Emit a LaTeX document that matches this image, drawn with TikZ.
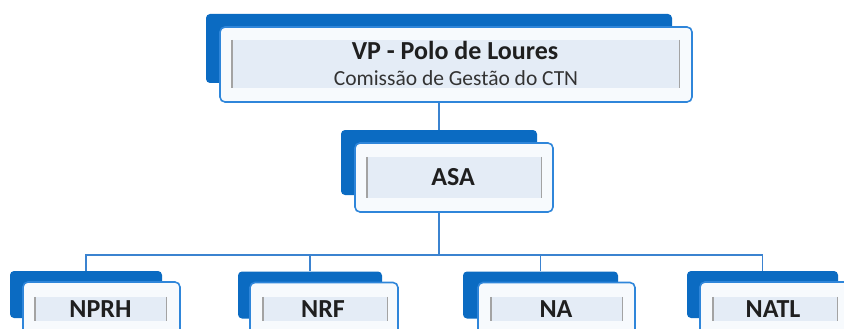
\documentclass[tikz,border=0pt]{standalone}
\usepackage{fontspec}
\setmainfont{Carlito}
\usetikzlibrary{backgrounds}

\definecolor{cardblue}{HTML}{0B6BC2}
\definecolor{edgeblue}{HTML}{2F86DA}
\definecolor{frontfill}{HTML}{F7FAFD}
\definecolor{bandfill}{HTML}{E4ECF6}
\definecolor{bargray}{HTML}{A3A3A3}
\definecolor{linkblue}{HTML}{3B83D0}

\tikzset{
  backbox/.style={fill=cardblue, rounded corners=4pt, inner sep=0pt},
  frontbox/.style={draw=edgeblue, line width=1.6pt, fill=frontfill, rounded corners=5pt, inner sep=0pt},
  band/.style={fill=bandfill, inner sep=0pt},
  bar/.style={draw=bargray, line width=1.4pt},
  link/.style={draw=linkblue, line width=1.8pt},
  head/.style={font=\bfseries\fontsize{26}{28}\selectfont, text=black!88, anchor=base, inner sep=0pt},
  sub/.style={font=\fontsize{21.5}{23}\selectfont, text=black!80, anchor=base, inner sep=0pt}
}

\begin{document}
\begin{tikzpicture}[x=1pt, y=-1pt]
    % Sinirlar
    \useasboundingbox (0,0) rectangle (844,329);
    \clip (0,0) rectangle (844,329);

    % VP kutusu
    \node[backbox, minimum width=466pt, minimum height=69pt] (vpb) at (439,48.5) {};
    \node[frontbox, minimum width=472pt, minimum height=75pt] (vp) at (456,64.5) {};
    \node[band, minimum width=447pt, minimum height=48pt] (vpin) at (455.5,64) {};
    \draw[bar] (vpin.north west) -- (vpin.south west);
    \draw[bar] (vpin.north east) -- (vpin.south east);
    \node[head] (vpt) at (455,60) {VP - Polo de Loures};
    \node[sub] (vps) at (456,85) {Comissão de Gestão do CTN};

    % ASA kutusu
    \node[backbox, minimum width=196pt, minimum height=65pt] (asab) at (439,162.5) {};
    \node[frontbox, minimum width=198pt, minimum height=69pt] (asa) at (454,177.5) {};
    \node[band, minimum width=174pt, minimum height=41pt] (asain) at (454,177.5) {};
    \draw[bar] (asain.north west) -- (asain.south west);
    \draw[bar] (asain.north east) -- (asain.south east);
    \node[head] (asat) at (453,185) {ASA};

    % Alt kutular
    \node[backbox, minimum width=152pt, minimum height=47pt] (nprhb) at (86,294.5) {};
    \node[frontbox, minimum width=157pt, minimum height=69pt] (nprh) at (101.5,316.5) {};
    \node[band, minimum width=131pt, minimum height=24pt] (nprhin) at (100.5,309) {};
    \draw[bar] (nprhin.north west) -- (nprhin.south west);
    \draw[bar] (nprhin.north east) -- (nprhin.south east);
    \node[head] (nprht) at (100.5,317) {NPRH};

    \node[backbox, minimum width=144pt, minimum height=47pt] (nrfb) at (310,295) {};
    \node[frontbox, minimum width=148pt, minimum height=69pt] (nrf) at (324,317) {};
    \node[band, minimum width=124pt, minimum height=24pt] (nrfin) at (325,309) {};
    \draw[bar] (nrfin.north west) -- (nrfin.south west);
    \draw[bar] (nrfin.north east) -- (nrfin.south east);
    \node[head] (nrft) at (323,317) {NRF};

    \node[backbox, minimum width=155pt, minimum height=47pt] (nab) at (540.5,295) {};
    \node[frontbox, minimum width=157pt, minimum height=69pt] (na) at (556.5,317) {};
    \node[band, minimum width=131pt, minimum height=24pt] (nain) at (556.5,309) {};
    \draw[bar] (nain.north west) -- (nain.south west);
    \draw[bar] (nain.north east) -- (nain.south east);
    \node[head] (nat) at (556,317) {NA};

    \node[backbox, minimum width=151pt, minimum height=47pt] (natlb) at (762.5,294.5) {};
    \node[frontbox, minimum width=160pt, minimum height=69pt] (natl) at (780,316.5) {};
    \node[band, minimum width=124pt, minimum height=24pt] (natlin) at (775,309) {};
    \draw[bar] (natlin.north west) -- (natlin.south west);
    \draw[bar] (natlin.north east) -- (natlin.south east);
    \node[head] (natlt) at (773,317) {NATL};

    % Baglantilar
    \begin{scope}[on background layer]
        \coordinate (bus) at (439,255);
        \draw[link] (vpb.south) -- (asab.north);
        \draw[link] (asab.south) -- (bus);
        \draw[link] (nprhb.north) -- (nprhb.north |- bus) -- (natlb.north |- bus) -- (natlb.north);
        \draw[link] (nrfb.north) -- (nrfb.north |- bus);
        \draw[link] (nab.north) -- (nab.north |- bus);
    \end{scope}
\end{tikzpicture}
\end{document}
